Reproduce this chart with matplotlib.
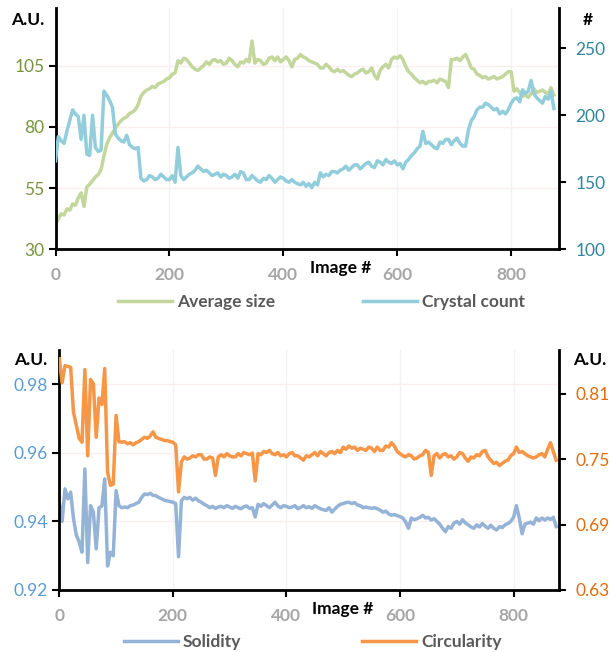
import matplotlib
matplotlib.use("Agg")
import matplotlib.pyplot as plt
import numpy as np

plt.rcParams['font.family'] = ['Lato', 'DejaVu Sans']

# values sampled every 5 images
step = 5

avg_size = [
    40, 42.5, 44.5, 44, 46.5, 46, 48.5, 48, 51, 53,
    47.5, 55.5, 56.5, 58, 59.5, 60.5, 62.5, 68, 73, 75.5,
    77.5, 79.5, 81, 82.5, 83.5, 84, 85.5, 86, 87, 89,
    92.5, 94, 95, 95.5, 96.5, 96, 97.5, 98, 98.5, 99.5,
    100, 101.5, 102, 107, 106, 108, 107.5, 106, 104.5, 103.5,
    103, 104, 105, 106.5, 105.5, 107, 107.5, 106.5, 107, 105.5,
    106, 108, 107, 105.5, 104.5, 106.5, 106, 107.5, 106.5, 115,
    106, 107.5, 107, 105.5, 106, 108, 108.5, 107, 108.5, 106.5,
    107.5, 108.5, 107, 104.5, 107.5, 108, 109.5, 108.5, 108, 107,
    106.5, 106, 105.5, 104, 104, 105.5, 104.5, 103, 102.5, 103.5,
    102.5, 103, 102, 101, 100.5, 101.5, 102, 103, 103.5, 102,
    102.5, 104, 101, 99.5, 103, 104.5, 105.5, 104, 107.5, 108.5,
    108, 109, 107.5, 104.5, 102.5, 101.5, 100, 99, 98, 98.5,
    97.5, 98.5, 98.5, 99, 98, 99.5, 99, 98.5, 96, 107.5,
    107.5, 108, 107, 108.5, 109.5, 107, 104, 103.5, 101.5, 101,
    100, 100.5, 99.5, 100, 100.5, 99.5, 100, 100.5, 101.5, 102.5,
    102.5, 94.5, 95.5, 94, 92.5, 93, 92, 93.5, 95.5, 94,
    94.5, 95, 94, 93.5, 96, 93,
]

crystal_count = [
    166, 184, 181, 179, 188, 196, 204, 201, 199, 182,
    200, 171, 170, 200, 176, 173, 174, 218, 215, 211,
    206, 186, 183, 181, 180, 185, 178, 176, 175, 176,
    153, 151, 152, 155, 154, 152, 153, 156, 154, 152,
    152, 155, 150, 176, 155, 152, 154, 156, 157, 159,
    162, 160, 158, 159, 157, 155, 156, 157, 154, 156,
    155, 153, 154, 156, 153, 158, 157, 152, 152, 155,
    153, 151, 150, 153, 152, 155, 153, 150, 152, 154,
    153, 151, 150, 152, 150, 149, 148, 150, 147, 149,
    146, 150, 148, 157, 154, 156, 155, 158, 158, 157,
    159, 160, 162, 159, 161, 163, 163, 160, 162, 164,
    165, 162, 161, 166, 165, 163, 167, 165, 164, 166,
    163, 164, 160, 165, 167, 170, 172, 175, 177, 188,
    179, 180, 178, 176, 175, 180, 179, 182, 182, 178,
    181, 183, 179, 177, 177, 189, 196, 199, 204, 206,
    206, 209, 208, 206, 204, 205, 201, 203, 201, 204,
    209, 212, 213, 210, 219, 216, 218, 226, 216, 213,
    211, 209, 214, 212, 218, 205,
]

solidity = [
    0.9456, 0.9400, 0.9495, 0.9466, 0.9485, 0.9408, 0.9360, 0.9340, 0.9310, 0.9553,
    0.9280, 0.9446, 0.9427, 0.9320, 0.9440, 0.9445, 0.9524, 0.9270, 0.9310, 0.9300,
    0.9490, 0.9446, 0.9440, 0.9442, 0.9440, 0.9446, 0.9448, 0.9452, 0.9456, 0.9470,
    0.9480, 0.9478, 0.9482, 0.9476, 0.9475, 0.9470, 0.9466, 0.9462, 0.9460, 0.9458,
    0.9456, 0.9452, 0.9297, 0.9460, 0.9470, 0.9466, 0.9470, 0.9462, 0.9468, 0.9460,
    0.9456, 0.9450, 0.9446, 0.9440, 0.9444, 0.9438, 0.9442, 0.9444, 0.9440, 0.9446,
    0.9442, 0.9438, 0.9444, 0.9440, 0.9437, 0.9443, 0.9445, 0.9438, 0.9440, 0.9413,
    0.9450, 0.9444, 0.9452, 0.9446, 0.9440, 0.9448, 0.9456, 0.9445, 0.9440, 0.9446,
    0.9444, 0.9440, 0.9442, 0.9446, 0.9437, 0.9441, 0.9446, 0.9440, 0.9443, 0.9438,
    0.9446, 0.9441, 0.9437, 0.9434, 0.9432, 0.9440, 0.9427, 0.9436, 0.9444, 0.9450,
    0.9452, 0.9455, 0.9456, 0.9452, 0.9455, 0.9448, 0.9446, 0.9440, 0.9442, 0.9440,
    0.9438, 0.9440, 0.9437, 0.9433, 0.9427, 0.9430, 0.9422, 0.9418, 0.9420, 0.9417,
    0.9414, 0.9410, 0.9398, 0.9380, 0.9410, 0.9405, 0.9408, 0.9412, 0.9418, 0.9410,
    0.9412, 0.9404, 0.9408, 0.9400, 0.9392, 0.9380, 0.9370, 0.9385, 0.9380, 0.9395,
    0.9400, 0.9392, 0.9405, 0.9396, 0.9390, 0.9384, 0.9380, 0.9390, 0.9384, 0.9394,
    0.9386, 0.9380, 0.9389, 0.9380, 0.9375, 0.9385, 0.9382, 0.9390, 0.9394, 0.9400,
    0.9412, 0.9446, 0.9410, 0.9364, 0.9392, 0.9395, 0.9398, 0.9392, 0.9410, 0.9402,
    0.9410, 0.9404, 0.9410, 0.9406, 0.9412, 0.9385,
]

circularity = [
    0.842, 0.820, 0.8356, 0.835, 0.834, 0.793, 0.781, 0.769, 0.7655, 0.832,
    0.753, 0.823, 0.819, 0.770, 0.806, 0.800, 0.833, 0.738, 0.726, 0.727,
    0.790, 0.766, 0.7655, 0.766, 0.764, 0.765, 0.763, 0.765, 0.766, 0.768,
    0.770, 0.769, 0.771, 0.775, 0.770, 0.769, 0.768, 0.767, 0.767, 0.766,
    0.7655, 0.763, 0.720, 0.7473, 0.752, 0.750, 0.751, 0.753, 0.752, 0.754,
    0.754, 0.750, 0.750, 0.752, 0.751, 0.735, 0.752, 0.754, 0.752, 0.755,
    0.753, 0.752, 0.752, 0.755, 0.753, 0.756, 0.755, 0.754, 0.7555, 0.730,
    0.755, 0.754, 0.757, 0.756, 0.758, 0.755, 0.754, 0.756, 0.753, 0.754,
    0.752, 0.755, 0.756, 0.753, 0.753, 0.751, 0.749, 0.753, 0.752, 0.754,
    0.756, 0.753, 0.757, 0.755, 0.753, 0.756, 0.757, 0.755, 0.758, 0.756,
    0.761, 0.759, 0.762, 0.760, 0.761, 0.758, 0.760, 0.759, 0.758, 0.761,
    0.760, 0.757, 0.761, 0.758, 0.758, 0.762, 0.761, 0.765, 0.762, 0.757,
    0.755, 0.753, 0.752, 0.754, 0.753, 0.750, 0.751, 0.753, 0.754, 0.758,
    0.756, 0.735, 0.753, 0.755, 0.751, 0.754, 0.755, 0.752, 0.753, 0.750,
    0.752, 0.756, 0.755, 0.751, 0.748, 0.752, 0.751, 0.754, 0.753, 0.757,
    0.758, 0.752, 0.749, 0.746, 0.747, 0.744, 0.746, 0.748, 0.749, 0.753,
    0.755, 0.761, 0.756, 0.757, 0.755, 0.753, 0.752, 0.751, 0.752, 0.754,
    0.755, 0.752, 0.759, 0.765, 0.757, 0.749,
]

x_ticks = [0, 200, 400, 600, 800]

W, H = 610, 652
fig = plt.figure(figsize=(W / 100, H / 100), dpi=100)


def px(x0, y0, x1, y1):
    # pixel box (top-left origin) -> figure rect
    return [x0 / W, 1 - y1 / H, (x1 - x0) / W, (y1 - y0) / H]


def setup(ax, ax2, xmax, lcol, rcol):
    ax.set_xlim(0, xmax)
    ax.set_xticks(x_ticks)
    ax.grid(axis='x', color='#F2F2F2', lw=1)
    ax.grid(axis='y', color='#FAEEEE', lw=1)
    ax.set_axisbelow(True)
    for a in (ax, ax2):
        a.spines['top'].set_visible(False)
    ax.spines['right'].set_visible(False)
    ax2.spines['left'].set_visible(False)
    ax2.spines['bottom'].set_visible(False)
    for s in ('left', 'bottom'):
        ax.spines[s].set_linewidth(2)
    ax2.spines['right'].set_linewidth(2)
    ax.tick_params(axis='y', direction='out', length=5, width=1.5, pad=3,
                   labelsize=12.5, labelcolor=lcol)
    ax2.tick_params(axis='y', direction='out', length=5, width=1.5, pad=7,
                    labelsize=12.5, labelcolor=rcol)
    ax.tick_params(axis='x', direction='out', length=5, width=1.5, pad=8,
                   labelsize=12.5, labelcolor='#A6A6A6')
    for lab in ax.get_xticklabels():
        lab.set_fontweight('bold')


def legend_entry(line, label, x, y):
    fig.legend([line], [label], loc='center left',
               bbox_to_anchor=(x / W, 1 - y / H), frameon=False,
               borderpad=0, borderaxespad=0, handlelength=3.1,
               handletextpad=0.3, labelcolor='#595959',
               prop={'weight': 'bold', 'size': 12.5})


# top chart
ax1 = fig.add_axes(px(55.5, 8, 559, 249.3))
ax1b = ax1.twinx()
x_a = np.arange(len(avg_size)) * step
x_c = np.arange(len(crystal_count)) * step
l1, = ax1.plot(x_a, avg_size, color='#C3D69B', lw=2.5)
l2, = ax1b.plot(x_c, crystal_count, color='#92CDDC', lw=2.5)
ax1.set_ylim(30, 128.5)
ax1.set_yticks([30, 55, 80, 105])
ax1b.set_ylim(100, 280)
ax1b.set_yticks([100, 150, 200, 250])
setup(ax1, ax1b, 884, '#77933C', '#31859C')

# bottom chart
ax2 = fig.add_axes(px(59.3, 350, 559, 590))
ax2b = ax2.twinx()
x_s = np.arange(len(solidity)) * step
x_r = np.arange(len(circularity)) * step
l3, = ax2.plot(x_s, solidity, color='#95B3D7', lw=2.5)
l4, = ax2b.plot(x_r, circularity, color='#F79646', lw=2.5)
ax2.set_ylim(0.92, 0.99)
ax2.set_yticks([0.92, 0.94, 0.96, 0.98])
ax2.set_yticklabels(['0.92', '0.94', '0.96', '0.98'])
ax2b.set_ylim(0.63, 0.85)
ax2b.set_yticks([0.63, 0.69, 0.75, 0.81])
ax2b.set_yticklabels(['0.63', '0.69', '0.75', '0.81'])
setup(ax2, ax2b, 880, '#5B9BD5', '#E46C0A')

# axis titles
title_kw = dict(ha='center', va='center', weight='bold', size=12.5)
fig.text(28 / W, 1 - 20 / H, 'A.U.', **title_kw)
fig.text(588 / W, 1 - 20 / H, '#', **title_kw)
fig.text(31 / W, 1 - 360 / H, 'A.U.', **title_kw)
fig.text(590 / W, 1 - 360 / H, 'A.U.', **title_kw)
fig.text(341 / W, 1 - 268 / H, 'Image #', **title_kw)
fig.text(343 / W, 1 - 609 / H, 'Image #', **title_kw)

legend_entry(l1, 'Average size', 118, 302)
legend_entry(l2, 'Crystal count', 363, 302)
legend_entry(l3, 'Solidity', 124, 642)
legend_entry(l4, 'Circularity', 362, 642)

fig.savefig('out.png', dpi=100)
